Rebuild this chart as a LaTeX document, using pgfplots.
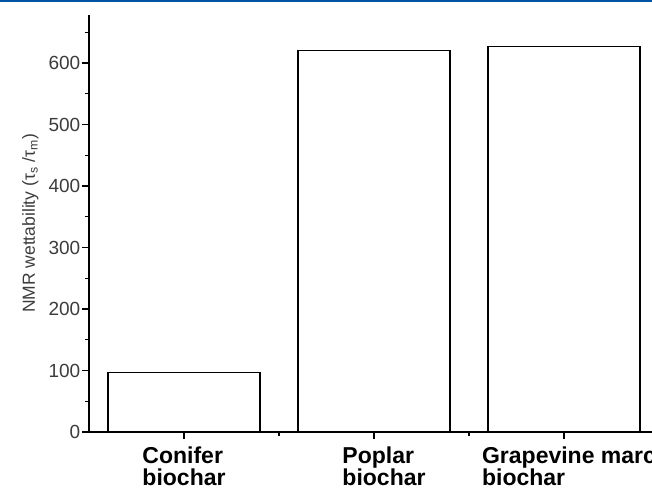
\documentclass[border=0pt]{standalone}
\usepackage{fontspec}
\setmainfont{Liberation Sans}
\usepackage{pgfplots}
\pgfplotsset{compat=1.18}
\definecolor{topblue}{RGB}{0,84,164}
\definecolor{ticktext}{RGB}{60,60,60}
\begin{document}
\begin{tikzpicture}
\path[use as bounding box] (-89pt,-58pt) rectangle (563pt,432pt);
\clip (-89pt,-58pt) rectangle (563pt,432pt);
\begin{axis}[
 scale only axis, width=570pt, height=417pt,
 xmin=0.5, xmax=3.5, ymin=0, ymax=678,
 axis lines*=left, axis line style={line width=1.6pt, -},
 ytick={0,100,...,600}, minor ytick={50,150,...,650},
 xtick={1,2,3}, minor xtick={1.5,2.5},
 xticklabels={{Conifer\\biochar},{\hspace*{20pt}Poplar\\\hspace*{20pt}biochar},{\hspace*{10pt}Grapevine marc\\\hspace*{10pt}biochar}},
 xticklabel style={align=left, font=\fontsize{23}{22}\selectfont\bfseries, yshift=-7pt, inner sep=1pt},
 yticklabel style={font=\fontsize{19}{20}\selectfont, text=ticktext, inner sep=1.5pt},
 tick align=outside, major tick length=7pt, minor tick length=4pt,
 tick style={line width=1.2pt, black},
 ylabel={NMR wettability (τ\textsubscript{s} /τ\textsubscript{m})},
 ylabel style={font=\fontsize{17.5}{20}\selectfont, text=ticktext},
 ylabel shift=5pt,
 /pgf/number format/assume math mode=true,
 clip=false,
]
\addplot[ybar, bar width=0.8, fill=white, draw=black, line width=1.6pt] coordinates {(1,97) (2,620) (3,627)};
\end{axis}
\fill[topblue] (-89pt,430pt) rectangle (563pt,432pt);
\end{tikzpicture}
\end{document}
